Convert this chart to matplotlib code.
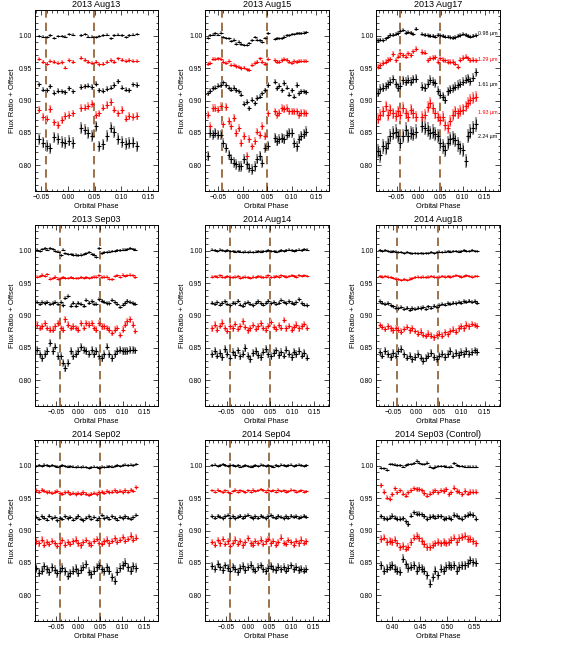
import matplotlib.pyplot as plt
from matplotlib.ticker import MultipleLocator, FuncFormatter

plt.rcParams['font.family'] = ['Liberation Sans', 'DejaVu Sans']

# 2013 Aug13
aug13_phase = [-0.054, -0.047, -0.040, -0.033, -0.026, -0.019, -0.012, -0.005, 0.002, 0.009,
               0.024, 0.031, 0.038, 0.045, 0.052, 0.059, 0.066, 0.073, 0.080, 0.087, 0.094,
               0.101, 0.108, 0.115, 0.122, 0.129]
aug13_098 = [1.000, 0.999, 0.998, 1.001, 0.997, 1.000, 1.000, 0.999, 1.003, 1.002,
             1.001, 1.003, 0.999, 0.999, 0.998, 1.000, 1.001, 1.002, 0.996, 1.001, 1.002,
             1.001, 0.998, 1.001, 1.002, 1.003]
aug13_129 = [0.964, 0.960, 0.957, 0.961, 0.960, 0.958, 0.959, 0.951, 0.962, 0.960,
             0.966, 0.963, 0.960, 0.958, 0.960, 0.956, 0.957, 0.960, 0.962, 0.960, 0.965,
             0.963, 0.961, 0.962, 0.961, 0.961]
aug13_161 = [0.925, 0.917, 0.916, 0.922, 0.912, 0.915, 0.914, 0.913, 0.919, 0.914,
             0.921, 0.922, 0.923, 0.921, 0.926, 0.916, 0.915, 0.918, 0.920, 0.924, 0.930,
             0.920, 0.917, 0.916, 0.925, 0.924]
aug13_193 = [0.886, 0.875, 0.872, 0.887, 0.866, 0.862, 0.870, 0.876, 0.877, 0.880,
             0.888, 0.889, 0.891, 0.895, 0.877, 0.880, 0.889, 0.893, 0.898, 0.886, 0.880,
             0.885, 0.872, 0.876, 0.875, 0.876]
aug13_224 = [0.840, 0.835, 0.830, 0.826, 0.843, 0.840, 0.836, 0.834, 0.838, 0.834,
             0.857, 0.855, 0.850, 0.845, 0.860, 0.829, 0.832, 0.845, 0.858, 0.851, 0.840,
             0.836, 0.833, 0.834, 0.835, 0.829]
aug13_err = [0.002, 0.003, 0.004, 0.006, 0.009]

# 2013 Aug15
aug15_phase = [-0.072, -0.067, -0.061, -0.056, -0.051, -0.045, -0.040, -0.035, -0.029, -0.024,
               -0.019, -0.013, -0.008, -0.003, 0.003, 0.008, 0.013, 0.019, 0.024, 0.029,
               0.035, 0.040, 0.045, 0.051,
               0.065, 0.070, 0.075, 0.080, 0.085, 0.090, 0.095, 0.100, 0.105, 0.110, 0.115,
               0.120, 0.125, 0.130]
aug15_098 = [0.997, 1.001, 1.002, 1.004, 1.002, 1.005, 0.998, 0.997, 0.996, 0.992,
             0.994, 0.988, 0.991, 0.987, 0.986, 0.986, 0.989, 0.993, 0.998, 0.994,
             0.993, 0.991, 0.997, 1.004,
             0.995, 0.997, 0.996, 0.996, 0.999, 1.001, 1.001, 1.003, 1.003, 1.004, 1.004,
             1.004, 1.005, 1.006]
aug15_129 = [0.957, 0.958, 0.964, 0.964, 0.965, 0.964, 0.960, 0.958, 0.961, 0.955,
             0.955, 0.953, 0.952, 0.950, 0.951, 0.948, 0.947, 0.955, 0.958, 0.960,
             0.965, 0.960, 0.957, 0.964,
             0.962, 0.960, 0.960, 0.962, 0.964, 0.963, 0.960, 0.958, 0.961, 0.960, 0.961,
             0.961, 0.961, 0.961]
aug15_161 = [0.911, 0.915, 0.919, 0.920, 0.923, 0.924, 0.928, 0.924, 0.920, 0.917,
             0.920, 0.916, 0.914, 0.909, 0.895, 0.898, 0.888, 0.901, 0.896, 0.904,
             0.906, 0.911, 0.916, 0.924,
             0.929, 0.919, 0.923, 0.916, 0.927, 0.920, 0.909, 0.916, 0.906, 0.924, 0.911,
             0.914, 0.914, 0.913]
aug15_193 = [0.878, 0.860, 0.888, 0.888, 0.886, 0.891, 0.863, 0.890, 0.868, 0.860,
             0.873, 0.850, 0.857, 0.834, 0.845, 0.814, 0.840, 0.829, 0.837, 0.852,
             0.847, 0.860, 0.845, 0.880,
             0.883, 0.878, 0.881, 0.888, 0.887, 0.888, 0.883, 0.883, 0.883, 0.883, 0.878,
             0.881, 0.881, 0.880]
aug15_224 = [0.814, 0.850, 0.847, 0.850, 0.847, 0.847, 0.834, 0.827, 0.816, 0.809,
             0.804, 0.801, 0.798, 0.798, 0.809, 0.801, 0.796, 0.793, 0.798, 0.809,
             0.814, 0.804, 0.827, 0.830,
             0.842, 0.837, 0.840, 0.842, 0.840, 0.847, 0.850, 0.850, 0.834, 0.829, 0.840,
             0.845, 0.848, 0.852]
aug15_err = [0.002, 0.003, 0.004, 0.006, 0.008]

# 2013 Aug17
aug17_phase = [-0.093, -0.087, -0.081, -0.075, -0.070, -0.064, -0.058, -0.052, -0.046, -0.041,
               -0.035, -0.029, -0.023, -0.018, -0.012, -0.006,
               0.009, 0.015, 0.021, 0.026, 0.032, 0.038, 0.044, 0.049, 0.055, 0.061, 0.067,
               0.072, 0.078, 0.084, 0.090, 0.095, 0.101, 0.107, 0.113, 0.118, 0.124, 0.130]
aug17_098 = [0.993, 0.994, 0.993, 0.996, 0.999, 1.002, 1.002, 1.003, 1.004, 1.008,
             1.009, 1.005, 1.006, 1.005, 1.003, 1.011,
             1.003, 1.002, 1.001, 1.000, 1.000, 0.999, 1.002, 1.001, 1.000, 0.999, 0.999,
             0.998, 0.997, 0.998, 1.000, 1.001, 1.003, 1.002, 1.000, 0.999, 1.000, 1.001]
aug17_129 = [0.952, 0.955, 0.958, 0.960, 0.963, 0.964, 0.972, 0.962, 0.968, 0.973,
             0.970, 0.968, 0.973, 0.970, 0.976, 0.980,
             0.975, 0.974, 0.962, 0.965, 0.966, 0.967, 0.960, 0.965, 0.963, 0.962, 0.960,
             0.960, 0.960, 0.957, 0.952, 0.963, 0.966, 0.968, 0.965, 0.962, 0.963, 0.962]
aug17_161 = [0.912, 0.918, 0.920, 0.922, 0.925, 0.929, 0.933, 0.926, 0.920, 0.923,
             0.931, 0.929, 0.932, 0.929, 0.933, 0.934,
             0.921, 0.920, 0.926, 0.932, 0.929, 0.927, 0.915, 0.909, 0.906, 0.901, 0.914,
             0.917, 0.919, 0.921, 0.924, 0.926, 0.929, 0.932, 0.934, 0.930, 0.935, 0.944]
aug17_193 = [0.872, 0.878, 0.883, 0.891, 0.878, 0.886, 0.880, 0.876, 0.883, 0.878,
             0.888, 0.880, 0.875, 0.886, 0.880, 0.875,
             0.875, 0.878, 0.890, 0.896, 0.888, 0.880, 0.875, 0.870, 0.875, 0.862, 0.857,
             0.868, 0.878, 0.883, 0.880, 0.884, 0.886, 0.891, 0.896, 0.901, 0.904, 0.906]
aug17_224 = [0.822, 0.815, 0.829, 0.826, 0.834, 0.845, 0.850, 0.852, 0.845, 0.834,
             0.845, 0.855, 0.845, 0.850, 0.848, 0.852,
             0.860, 0.857, 0.855, 0.850, 0.852, 0.848, 0.845, 0.834, 0.829, 0.824, 0.834,
             0.840, 0.842, 0.839, 0.832, 0.827, 0.824, 0.806, 0.845, 0.852, 0.858, 0.863]
aug17_err = [0.003, 0.004, 0.007, 0.009, 0.011]

# 2013 Sep03
sep03_phase = [-0.093, -0.087, -0.081, -0.076, -0.070, -0.064, -0.058, -0.052, -0.046, -0.040,
               -0.035, -0.029, -0.023, -0.017, -0.011, -0.005, 0.000, 0.006, 0.012, 0.018,
               0.024, 0.030, 0.035, 0.041, 0.047, 0.053, 0.059, 0.065, 0.070, 0.076, 0.082,
               0.088, 0.094, 0.100, 0.105, 0.111, 0.117, 0.123, 0.129]
sep03_098 = [1.002, 1.000, 1.003, 1.004, 1.002, 1.004, 1.003, 1.000, 0.999, 0.993,
             1.002, 0.996, 0.995, 0.995, 0.994, 0.994, 0.993, 0.994, 0.995, 0.996,
             0.998, 0.995, 0.994, 0.991, 1.004, 0.996, 0.998, 0.998, 0.999, 1.000, 1.000,
             1.001, 1.001, 1.002, 1.002, 1.003, 1.004, 1.003, 1.002]
sep03_129 = [0.960, 0.961, 0.963, 0.961, 0.964, 0.957, 0.958, 0.960, 0.957, 0.958,
             0.959, 0.958, 0.958, 0.959, 0.958, 0.958, 0.958, 0.959, 0.958, 0.959,
             0.958, 0.959, 0.960, 0.960, 0.962, 0.959, 0.960, 0.960, 0.957, 0.956, 0.961,
             0.962, 0.960, 0.963, 0.961, 0.962, 0.963, 0.962, 0.959]
sep03_161 = [0.921, 0.918, 0.921, 0.919, 0.921, 0.918, 0.919, 0.921, 0.918, 0.921,
             0.916, 0.927, 0.930, 0.915, 0.920, 0.915, 0.920, 0.918, 0.915, 0.924,
             0.920, 0.922, 0.918, 0.918, 0.925, 0.923, 0.921, 0.919, 0.919, 0.924, 0.921,
             0.918, 0.913, 0.917, 0.920, 0.923, 0.921, 0.919, 0.918]
sep03_193 = [0.886, 0.881, 0.883, 0.888, 0.881, 0.878, 0.878, 0.883, 0.888, 0.881,
             0.878, 0.894, 0.886, 0.881, 0.883, 0.881, 0.878, 0.888, 0.881, 0.888,
             0.886, 0.888, 0.881, 0.878, 0.888, 0.883, 0.883, 0.881, 0.878, 0.873, 0.878,
             0.881, 0.870, 0.878, 0.886, 0.891, 0.894, 0.886, 0.876]
sep03_224 = [0.847, 0.840, 0.834, 0.840, 0.845, 0.858, 0.845, 0.852, 0.837, 0.837,
             0.827, 0.819, 0.827, 0.845, 0.837, 0.840, 0.845, 0.851, 0.847, 0.845,
             0.841, 0.847, 0.840, 0.845, 0.837, 0.834, 0.840, 0.852, 0.840, 0.834, 0.840,
             0.845, 0.847, 0.845, 0.845, 0.845, 0.847, 0.847, 0.846]
sep03_err = [0.002, 0.002, 0.003, 0.005, 0.006]

# 2014 Aug14
aug14_phase = [-0.083, -0.077, -0.071, -0.066, -0.060, -0.054, -0.048, -0.042, -0.036, -0.031,
               -0.025, -0.019, -0.013, -0.007, -0.001, 0.004, 0.010, 0.016, 0.022, 0.028,
               0.034, 0.039, 0.045, 0.051, 0.057, 0.063, 0.069, 0.074, 0.080, 0.086, 0.092,
               0.098, 0.104, 0.109, 0.115, 0.121, 0.127, 0.133]
aug14_098 = [1.002, 1.001, 1.000, 1.002, 1.001, 1.000, 1.001, 1.000, 1.000, 0.999,
             1.000, 0.999, 0.998, 0.999, 0.998, 0.999, 0.998, 0.999, 1.000, 0.999,
             1.000, 1.000, 1.001, 1.000, 1.000, 0.999, 1.000, 1.001, 1.000, 1.001, 1.002,
             1.001, 1.000, 1.001, 1.002, 1.001, 1.003, 1.002]
aug14_129 = [0.960, 0.961, 0.960, 0.962, 0.960, 0.959, 0.961, 0.960, 0.959, 0.960,
             0.961, 0.958, 0.959, 0.960, 0.959, 0.958, 0.960, 0.959, 0.961, 0.960,
             0.959, 0.960, 0.962, 0.959, 0.960, 0.961, 0.960, 0.962, 0.961, 0.960, 0.961,
             0.962, 0.961, 0.960, 0.962, 0.961, 0.962, 0.961]
aug14_161 = [0.920, 0.918, 0.921, 0.917, 0.920, 0.922, 0.918, 0.916, 0.920, 0.919,
             0.923, 0.917, 0.915, 0.919, 0.921, 0.918, 0.916, 0.920, 0.922, 0.919,
             0.917, 0.920, 0.923, 0.919, 0.921, 0.918, 0.920, 0.924, 0.921, 0.919, 0.922,
             0.920, 0.918, 0.921, 0.925, 0.919, 0.917, 0.916]
aug14_193 = [0.880, 0.886, 0.878, 0.884, 0.889, 0.881, 0.876, 0.883, 0.880, 0.887,
             0.879, 0.884, 0.891, 0.882, 0.877, 0.880, 0.885, 0.879, 0.883, 0.888,
             0.881, 0.878, 0.884, 0.890, 0.882, 0.879, 0.885, 0.881, 0.893, 0.880, 0.884,
             0.878, 0.882, 0.886, 0.880, 0.883, 0.887, 0.881]
aug14_224 = [0.840, 0.845, 0.838, 0.842, 0.836, 0.848, 0.841, 0.835, 0.843, 0.839,
             0.846, 0.837, 0.841, 0.850, 0.838, 0.833, 0.842, 0.845, 0.839, 0.836,
             0.844, 0.848, 0.840, 0.837, 0.842, 0.846, 0.839, 0.843, 0.838, 0.847, 0.841,
             0.836, 0.844, 0.840, 0.845, 0.838, 0.842, 0.835]
aug14_err = [0.002, 0.002, 0.003, 0.005, 0.006]

# 2014 Aug18
aug18_phase = [-0.079, -0.073, -0.067, -0.061, -0.055, -0.049, -0.044, -0.038, -0.032, -0.026,
               -0.020, -0.014, -0.008, -0.002, 0.004, 0.010, 0.016, 0.022, 0.027, 0.033,
               0.039, 0.045, 0.051, 0.057, 0.063, 0.069, 0.075, 0.081, 0.087, 0.093, 0.098,
               0.104, 0.110, 0.116, 0.122, 0.128, 0.134]
aug18_098 = [1.001, 1.000, 1.001, 1.000, 0.999, 1.000, 0.999, 0.998, 0.998, 0.997,
             0.998, 0.997, 0.996, 0.997, 0.996, 0.997, 0.996, 0.997, 0.997, 0.998,
             0.997, 0.998, 0.999, 0.998, 0.999, 1.000, 0.999, 1.000, 1.000, 0.999, 1.000,
             1.001, 1.000, 1.000, 1.001, 1.000, 1.000]
aug18_129 = [0.961, 0.960, 0.961, 0.960, 0.959, 0.958, 0.957, 0.956, 0.955, 0.956,
             0.955, 0.957, 0.958, 0.959, 0.960, 0.959, 0.960, 0.959, 0.960, 0.961,
             0.960, 0.959, 0.960, 0.961, 0.960, 0.961, 0.960, 0.961, 0.962, 0.961, 0.960,
             0.961, 0.962, 0.961, 0.960, 0.961, 0.961]
aug18_161 = [0.922, 0.920, 0.918, 0.919, 0.916, 0.914, 0.912, 0.911, 0.913, 0.910,
             0.912, 0.909, 0.911, 0.910, 0.912, 0.911, 0.913, 0.910, 0.914, 0.912,
             0.915, 0.913, 0.916, 0.918, 0.917, 0.919, 0.918, 0.920, 0.919, 0.921, 0.920,
             0.922, 0.921, 0.923, 0.921, 0.922, 0.920]
aug18_193 = [0.885, 0.882, 0.879, 0.883, 0.880, 0.877, 0.881, 0.878, 0.875, 0.879,
             0.882, 0.877, 0.880, 0.876, 0.872, 0.875, 0.870, 0.868, 0.872, 0.869,
             0.866, 0.870, 0.872, 0.869, 0.874, 0.871, 0.876, 0.878, 0.875, 0.880, 0.883,
             0.880, 0.886, 0.883, 0.887, 0.885, 0.884]
aug18_224 = [0.843, 0.838, 0.845, 0.840, 0.836, 0.842, 0.838, 0.845, 0.848, 0.840,
             0.835, 0.838, 0.832, 0.836, 0.840, 0.835, 0.830, 0.834, 0.838, 0.842,
             0.836, 0.833, 0.838, 0.841, 0.836, 0.840, 0.845, 0.838, 0.842, 0.839, 0.843,
             0.840, 0.845, 0.841, 0.843, 0.846, 0.844]
aug18_err = [0.002, 0.002, 0.003, 0.005, 0.006]

# 2014 Sep02
sep02_phase = [-0.095, -0.089, -0.083, -0.077, -0.071, -0.065, -0.059, -0.053, -0.047, -0.042,
               -0.036, -0.030, -0.024, -0.018, -0.012, -0.006, 0.000, 0.006, 0.012, 0.018,
               0.024, 0.030, 0.036, 0.042, 0.048, 0.053, 0.059, 0.065, 0.071, 0.077, 0.083,
               0.089, 0.095, 0.101, 0.107, 0.113, 0.119, 0.125, 0.131]
sep02_098 = [1.000, 1.001, 1.000, 1.002, 1.001, 1.000, 1.001, 1.000, 0.999, 1.000,
             1.001, 1.000, 0.999, 1.000, 0.999, 0.998, 0.999, 0.998, 0.999, 0.998,
             0.997, 0.998, 0.999, 0.998, 0.997, 0.999, 0.998, 0.999, 1.000, 0.999, 1.000,
             1.001, 1.000, 1.001, 1.002, 1.001, 1.002, 1.001, 1.003]
sep02_129 = [0.962, 0.960, 0.963, 0.961, 0.959, 0.960, 0.958, 0.960, 0.961, 0.958,
             0.957, 0.959, 0.960, 0.957, 0.958, 0.956, 0.958, 0.957, 0.959, 0.957,
             0.955, 0.957, 0.958, 0.956, 0.959, 0.960, 0.958, 0.961, 0.959, 0.960, 0.962,
             0.960, 0.961, 0.959, 0.962, 0.960, 0.963, 0.961, 0.967]
sep02_161 = [0.921, 0.918, 0.922, 0.920, 0.917, 0.923, 0.919, 0.921, 0.916, 0.920,
             0.918, 0.922, 0.919, 0.921, 0.917, 0.920, 0.923, 0.918, 0.916, 0.920,
             0.922, 0.918, 0.921, 0.917, 0.920, 0.924, 0.919, 0.921, 0.918, 0.922, 0.920,
             0.917, 0.921, 0.919, 0.922, 0.920, 0.918, 0.921, 0.924]
sep02_193 = [0.883, 0.880, 0.886, 0.878, 0.882, 0.879, 0.884, 0.881, 0.876, 0.880,
             0.885, 0.878, 0.882, 0.879, 0.883, 0.886, 0.880, 0.877, 0.882, 0.885,
             0.880, 0.878, 0.884, 0.887, 0.881, 0.879, 0.883, 0.886, 0.880, 0.884, 0.888,
             0.882, 0.885, 0.890, 0.884, 0.887, 0.892, 0.886, 0.889]
sep02_224 = [0.842, 0.835, 0.838, 0.845, 0.840, 0.836, 0.843, 0.839, 0.834, 0.838,
             0.842, 0.837, 0.830, 0.834, 0.838, 0.841, 0.835, 0.839, 0.844, 0.848,
             0.836, 0.832, 0.838, 0.843, 0.846, 0.840, 0.837, 0.843, 0.838, 0.828, 0.822,
             0.836, 0.842, 0.846, 0.850, 0.843, 0.838, 0.845, 0.842]
sep02_err = [0.002, 0.003, 0.003, 0.005, 0.007]

# 2014 Sep04
sep04_phase = [-0.082, -0.076, -0.070, -0.064, -0.058, -0.053, -0.047, -0.041, -0.035, -0.029,
               -0.023, -0.018, -0.012, -0.006, 0.000, 0.006, 0.012, 0.017, 0.023, 0.029,
               0.035, 0.041, 0.047, 0.052, 0.058, 0.064, 0.070, 0.076, 0.082, 0.087, 0.093,
               0.099, 0.105, 0.111, 0.117, 0.122, 0.128, 0.134]
sep04_098 = [1.001, 1.002, 1.000, 1.001, 1.003, 1.001, 1.000, 1.002, 1.001, 1.000,
             1.001, 0.999, 1.000, 1.001, 1.000, 0.999, 1.000, 1.001, 1.000, 1.002,
             1.001, 1.000, 1.001, 1.000, 0.999, 1.001, 1.000, 1.002, 1.001, 1.000, 1.001,
             1.002, 1.000, 1.001, 1.002, 1.001, 1.000, 1.001]
sep04_129 = [0.962, 0.960, 0.963, 0.961, 0.959, 0.962, 0.960, 0.958, 0.961, 0.963,
             0.960, 0.962, 0.961, 0.959, 0.962, 0.960, 0.963, 0.961, 0.962, 0.964,
             0.962, 0.960, 0.963, 0.961, 0.962, 0.960, 0.963, 0.961, 0.962, 0.960, 0.961,
             0.963, 0.962, 0.960, 0.961, 0.962, 0.960, 0.961]
sep04_161 = [0.922, 0.920, 0.923, 0.921, 0.919, 0.922, 0.924, 0.920, 0.922, 0.919,
             0.921, 0.923, 0.920, 0.922, 0.924, 0.921, 0.919, 0.922, 0.920, 0.923,
             0.921, 0.919, 0.922, 0.924, 0.921, 0.920, 0.923, 0.921, 0.919, 0.922, 0.920,
             0.923, 0.921, 0.922, 0.920, 0.921, 0.923, 0.921]
sep04_193 = [0.882, 0.878, 0.885, 0.880, 0.887, 0.879, 0.883, 0.876, 0.881, 0.886,
             0.879, 0.884, 0.877, 0.882, 0.888, 0.880, 0.878, 0.884, 0.881, 0.886,
             0.879, 0.883, 0.887, 0.880, 0.884, 0.878, 0.882, 0.889, 0.881, 0.879, 0.885,
             0.882, 0.878, 0.884, 0.880, 0.886, 0.881, 0.883]
sep04_224 = [0.845, 0.841, 0.848, 0.843, 0.839, 0.846, 0.842, 0.838, 0.844, 0.840,
             0.836, 0.842, 0.845, 0.839, 0.843, 0.847, 0.841, 0.838, 0.843, 0.846,
             0.840, 0.837, 0.842, 0.845, 0.841, 0.839, 0.844, 0.840, 0.843, 0.838, 0.842,
             0.846, 0.840, 0.843, 0.839, 0.841, 0.838, 0.840]
sep04_err = [0.002, 0.002, 0.003, 0.005, 0.006]

# 2014 Sep03 (Control)
ctrl_phase = [0.380, 0.385, 0.390, 0.395, 0.400, 0.405, 0.409, 0.414, 0.419, 0.424, 0.429,
              0.434, 0.439, 0.444, 0.449, 0.454, 0.458, 0.463, 0.468, 0.473, 0.478, 0.483,
              0.488, 0.493, 0.498, 0.503, 0.507, 0.512, 0.517, 0.522, 0.527, 0.532, 0.537,
              0.542, 0.547, 0.552]
ctrl_098 = [0.997, 0.996, 0.994, 1.003, 1.003, 1.002, 1.001, 1.001, 0.999, 1.001, 1.003,
            1.003, 1.004, 1.008, 1.005, 1.003, 1.003, 1.005, 0.999, 0.997, 0.999, 1.000,
            1.000, 1.000, 0.999, 0.998, 0.999, 1.004, 1.001, 1.000, 1.000, 0.999, 0.999,
            0.999, 0.999, 0.999]
ctrl_129 = [0.970, 0.960, 0.951, 0.949, 0.956, 0.965, 0.959, 0.962, 0.957, 0.954, 0.959,
            0.962, 0.965, 0.964, 0.964, 0.962, 0.958, 0.954, 0.957, 0.960, 0.962, 0.959,
            0.962, 0.961, 0.964, 0.956, 0.959, 0.966, 0.961, 0.960, 0.956, 0.961, 0.957,
            0.960, 0.960, 0.960]
ctrl_161 = [0.922, 0.919, 0.918, 0.920, 0.923, 0.920, 0.918, 0.918, 0.919, 0.914, 0.910,
            0.923, 0.928, 0.926, 0.926, 0.925, 0.922, 0.918, 0.921, 0.922, 0.920, 0.922,
            0.922, 0.918, 0.919, 0.920, 0.918, 0.924, 0.923, 0.920, 0.918, 0.922, 0.924,
            0.926, 0.924, 0.918]
ctrl_193 = [0.887, 0.889, 0.882, 0.884, 0.882, 0.886, 0.880, 0.874, 0.876, 0.872, 0.874,
            0.882, 0.889, 0.892, 0.888, 0.884, 0.879, 0.874, 0.874, 0.877, 0.880, 0.882,
            0.880, 0.882, 0.880, 0.882, 0.885, 0.889, 0.882, 0.888, 0.890, 0.892, 0.887,
            0.887, 0.884, 0.880]
ctrl_224 = [0.846, 0.838, 0.841, 0.844, 0.846, 0.841, 0.838, 0.836, 0.856, 0.848, 0.842,
            0.844, 0.846, 0.838, 0.844, 0.841, 0.838, 0.831, 0.818, 0.828, 0.838, 0.831,
            0.841, 0.838, 0.844, 0.846, 0.844, 0.846, 0.838, 0.844, 0.846, 0.846, 0.849,
            0.854, 0.851, 0.850]
ctrl_err = [0.002, 0.004, 0.004, 0.006, 0.007]

wave_labels = ['0.98 \u00b5m', '1.29 \u00b5m', '1.61 \u00b5m', '1.93 \u00b5m', '2.24 \u00b5m']
wave_label_y = [1.004, 0.964, 0.925, 0.881, 0.845]

panels = [
    ('2013 Aug13', aug13_phase, [aug13_098, aug13_129, aug13_161, aug13_193, aug13_224], aug13_err, (-0.063, 0.169)),
    ('2013 Aug15', aug15_phase, [aug15_098, aug15_129, aug15_161, aug15_193, aug15_224], aug15_err, (-0.0775, 0.1755)),
    ('2013 Aug17', aug17_phase, [aug17_098, aug17_129, aug17_161, aug17_193, aug17_224], aug17_err, (-0.0966, 0.184)),
    ('2013 Sep03', sep03_phase, [sep03_098, sep03_129, sep03_161, sep03_193, sep03_224], sep03_err, (-0.099, 0.180)),
    ('2014 Aug14', aug14_phase, [aug14_098, aug14_129, aug14_161, aug14_193, aug14_224], aug14_err, (-0.099, 0.182)),
    ('2014 Aug18', aug18_phase, [aug18_098, aug18_129, aug18_161, aug18_193, aug18_224], aug18_err, (-0.087, 0.182)),
    ('2014 Sep02', sep02_phase, [sep02_098, sep02_129, sep02_161, sep02_193, sep02_224], sep02_err, (-0.099, 0.181)),
    ('2014 Sep04', sep04_phase, [sep04_098, sep04_129, sep04_161, sep04_193, sep04_224], sep04_err, (-0.099, 0.185)),
    ('2014 Sep03 (Control)', ctrl_phase, [ctrl_098, ctrl_129, ctrl_161, ctrl_193, ctrl_224], ctrl_err, (0.370, 0.595)),
]

dark = ['black', 'red', 'black', 'red', 'black']
light = ['#a0a0a0', '#ff9c9c', '#a0a0a0', '#ff9c9c', '#a0a0a0']
eclipse = [-0.042, 0.049]


def fmt(v, pos):
    return ('%.2f' % v).replace('-', '\u2212')


fig = plt.figure(figsize=(5.81, 6.45), dpi=100)
lefts = [34.5, 205, 376]
tops = [10, 225, 440]
W, H = 123.5, 181

for k, (title, phase, series, errs, xlim) in enumerate(panels):
    r, c = divmod(k, 3)
    ax = fig.add_axes([lefts[c] / 581, 1 - (tops[r] + H) / 645, W / 581, H / 645])

    if 'Control' not in title:
        for x in eclipse:
            ax.axvline(x, color='#8b5a2b', lw=1.2, dashes=(5, 3), zorder=1)

    for vals, e, dc, lc in zip(series, errs, dark, light):
        ax.errorbar(phase, vals, yerr=e, fmt='none', ecolor=lc, elinewidth=1.5, zorder=2)
        ax.errorbar(phase, vals, yerr=e * 0.7, fmt='none', ecolor=dc, elinewidth=0.6, zorder=3)
        ax.plot(phase, vals, ls='none', marker='_', ms=3.5, mew=0.8, color=dc, zorder=4)

    if title == '2013 Aug17':
        for lab, yv, dc in zip(wave_labels, wave_label_y, dark):
            ax.text(0.136, yv, lab, fontsize=3.8, color=dc, va='center', ha='left')

    ax.set_xlim(*xlim)
    ax.set_ylim(0.76, 1.04)
    ax.xaxis.set_major_locator(MultipleLocator(0.05))
    ax.xaxis.set_minor_locator(MultipleLocator(0.01))
    ax.yaxis.set_minor_locator(MultipleLocator(0.01))
    ax.xaxis.set_major_formatter(FuncFormatter(fmt))
    ax.yaxis.set_major_formatter(FuncFormatter(fmt))
    ax.set_yticks([0.80, 0.85, 0.90, 0.95, 1.00])
    ax.tick_params(which='both', direction='in', top=True, right=True, width=0.5,
                   labelsize=4.9, pad=2)
    ax.tick_params(which='major', length=3.5)
    ax.tick_params(which='minor', length=1.8)
    for s in ax.spines.values():
        s.set_linewidth(0.7)
    ax.set_title(title, fontsize=6.5, pad=2)
    ax.set_xlabel('Orbital Phase', fontsize=5.3, labelpad=1.5)
    ax.set_ylabel('Flux Ratio + Offset', fontsize=5.6, labelpad=2)

fig.savefig('out.png', dpi=100)
